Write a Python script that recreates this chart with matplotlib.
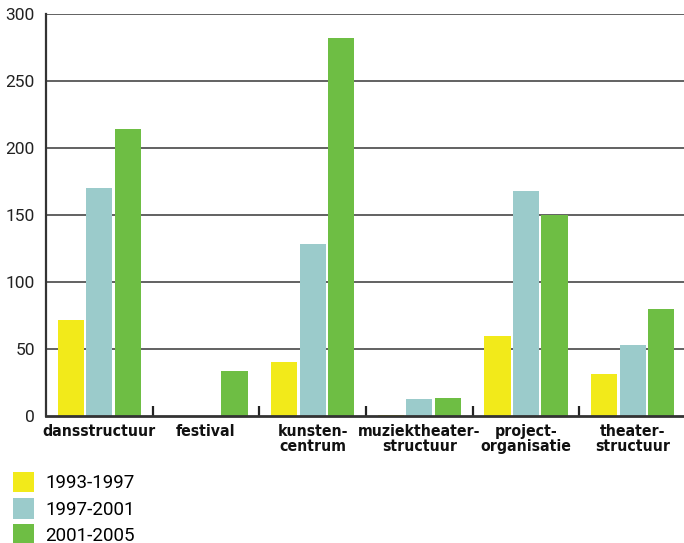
import matplotlib
matplotlib.use("Agg")
import matplotlib.pyplot as plt
from matplotlib.patches import Patch
import numpy as np

categories = ["dansstructuur", "festival", "kunsten-\ncentrum", "muziektheater-\nstructuur",
              "project-\norganisatie", "theater-\nstructuur"]
series_names = ["1993-1997", "1997-2001", "2001-2005"]
v_1993_1997 = [72, 0, 40, 1, 60, 31]
v_1997_2001 = [170, 0, 128, 12.5, 168, 53]
v_2001_2005 = [214, 33.5, 282, 13.5, 150, 80]
colors = ["#F2EA1A", "#9BCBCB", "#6EBE44"]
yticks = [0, 50, 100, 150, 200, 250, 300]

fig = plt.figure(figsize=(6.84, 5.43), dpi=100)
ax = fig.add_axes([46/684, 1-416/543, 640/684, 402/543])

x = np.arange(len(categories)) + 0.5
w = 0.245
step = 0.267
for i, (vals, c) in enumerate(zip([v_1993_1997, v_1997_2001, v_2001_2005], colors)):
    ax.bar(x + (i-1)*step, vals, width=w, color=c, zorder=3, label=series_names[i])

ax.set_xlim(0, 6)
ax.set_ylim(0, 300)
ax.set_yticks(yticks)
ax.set_yticklabels([str(t) for t in yticks], fontfamily="Roboto", fontsize=12.5, color="#222222")
ax.tick_params(axis="y", length=0, pad=8)
for t in yticks[1:]:
    ax.axhline(t, color="#555555", lw=1.3, zorder=1)

ax.set_xticks(x)
ax.set_xticklabels(categories, fontfamily="DejaVu Sans", fontstretch="condensed",
                   fontweight="bold", fontsize=11.3, color="#111111", linespacing=1.0)
ax.tick_params(axis="x", which="major", length=0, pad=6)
ax.set_xticks(np.arange(1, 6), minor=True)
ax.tick_params(axis="x", which="minor", length=7, width=1.6, color="#222222", direction="in")

for s in ["top", "right"]:
    ax.spines[s].set_visible(False)
ax.spines["left"].set_color("#333333")
ax.spines["left"].set_linewidth(1.6)
ax.spines["bottom"].set_color("#333333")
ax.spines["bottom"].set_linewidth(2)
ax.spines["bottom"].set_zorder(4)

handles = [Patch(facecolor=c, edgecolor="none") for c in colors]
fig.legend(handles, series_names, loc="upper left", bbox_to_anchor=(13/684, 1-472/543),
           frameon=False, prop={"family": "Roboto", "size": 13.5},
           handlelength=1.13, handleheight=1.3, handletextpad=0.58, labelspacing=0.3,
           borderpad=0, borderaxespad=0)

fig.savefig("out.png", dpi=100)
